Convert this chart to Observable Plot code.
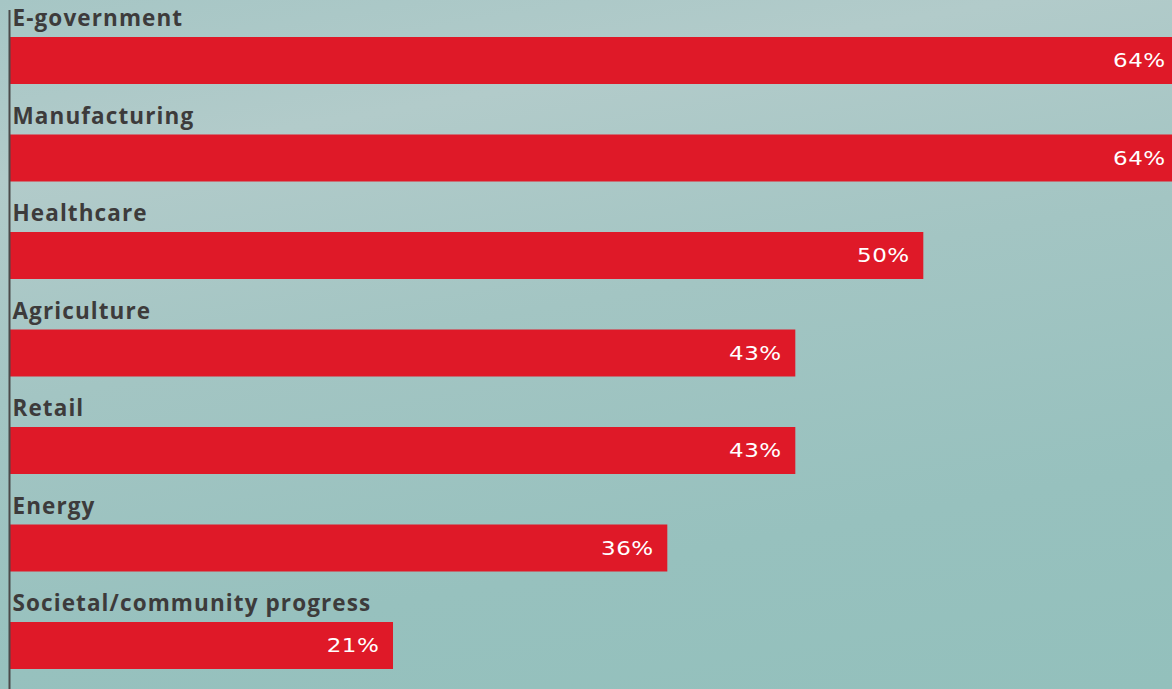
<!DOCTYPE html>
<html>
<head>
<meta charset="utf-8">
<script src="https://cdn.jsdelivr.net/npm/d3@7"></script>
<script src="https://cdn.jsdelivr.net/npm/@observablehq/plot@0.6"></script>
<style>
  html, body { margin: 0; padding: 0; overflow: hidden; }
  body {
    width: 1172px; height: 689px;
    background: linear-gradient(170deg, #a6c6c5 0%, #b2cbca 20%, #a3c5c3 45%, #97c1be 75%, #93c0bc 100%);
  }
  #chart svg { display: block; background: transparent; }
</style>
</head>
<body>
<div id="chart"></div>
<script>
const categories = ["E-government", "Manufacturing", "Healthcare", "Agriculture", "Retail", "Energy", "Societal/community progress"];
const values = [64, 64, 50, 43, 43, 36, 21];
const valueLabels = ["64%", "64%", "50%", "43%", "43%", "36%", "21%"];

const data = categories.map((c, i) => ({category: c, value: values[i], label: valueLabels[i]}));

const chart = Plot.plot({
  width: 1172,
  height: 689,
  marginLeft: 0,
  marginRight: 0,
  marginTop: 0,
  marginBottom: 0,
  style: {background: "transparent", overflow: "hidden"},
  x: {domain: [0, 63.6], range: [9, 1172], axis: null},
  y: {domain: categories, range: [37, 669], paddingInner: 0.518, paddingOuter: 0, round: false, axis: null},
  marks: [
    Plot.barX(data, {x1: 0, x2: "value", y: "category", fill: "#df1928"}),
    Plot.ruleX([0], {stroke: "#4a4a4a", strokeWidth: 2, insetTop: 10}),
    Plot.text(data, {
      x: 0, y: "category", text: "category", textAnchor: "start", dx: 3, dy: -42,
      fill: "#3d3b3b", fontSize: 22.5, fontWeight: "bold", fontFamily: "'Open Sans', sans-serif"
    }),
    Plot.text(data, {
      x: "value", y: "category", text: "label", textAnchor: "end", dx: -14, dy: 0,
      fill: "#ffffff", fontSize: 19.5, fontWeight: "normal", fontFamily: "'DejaVu Sans', sans-serif"
    })
  ]
});
const textGroups = chart.querySelectorAll("g[aria-label='text']");
if (textGroups[0]) textGroups[0].style.letterSpacing = "1.1px";
if (textGroups[1]) {
  textGroups[1].style.letterSpacing = "0.5px";
  textGroups[1].querySelectorAll("text").forEach(t => {
    const tr = t.getAttribute("transform");
    if (tr) {
      t.setAttribute("transform", tr + " scale(1.18,1)");
    } else {
      const x = +t.getAttribute("x") || 0, y = +t.getAttribute("y") || 0;
      t.setAttribute("x", 0); t.setAttribute("y", 0);
      t.setAttribute("transform", `translate(${x},${y}) scale(1.18,1)`);
    }
  });
}
document.getElementById("chart").append(chart);
</script>
</body>
</html>
